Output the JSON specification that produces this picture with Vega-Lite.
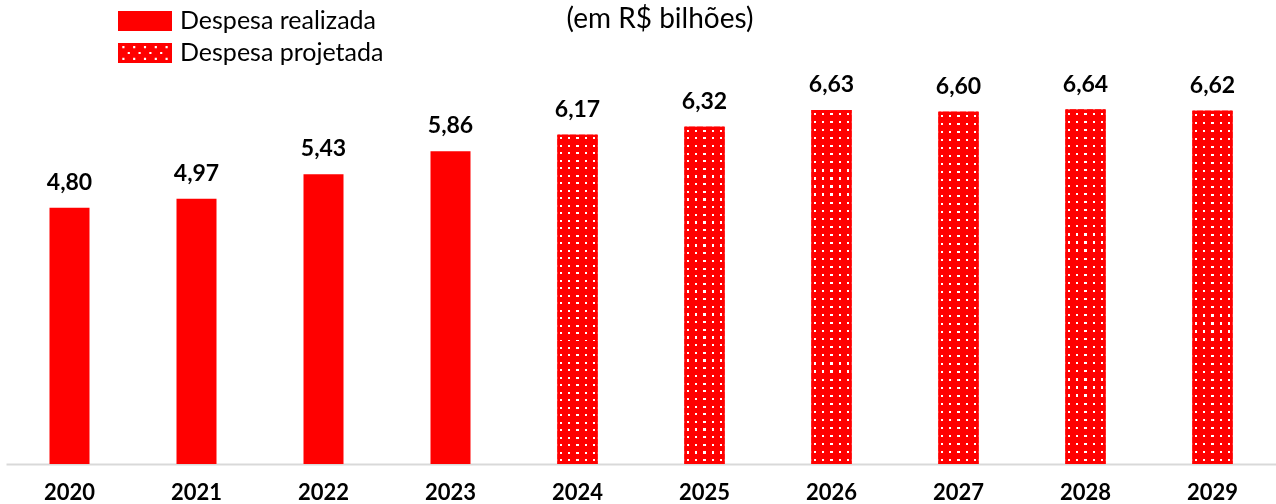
{
  "$schema": "https://vega.github.io/schema/vega-lite/v6.json",
  "width": 1270,
  "height": 427,
  "autosize": {"type": "none"},
  "padding": {"left": 6, "top": 37, "right": 0, "bottom": 40},
  "background": "white",
  "title": {"text": "(em R$ bilhões)", "anchor": "middle", "frame": "group", "font": "Lato", "fontSize": 28, "fontWeight": "normal", "color": "#000", "baseline": "alphabetic", "offset": 0, "dx": 19, "dy": 48},
  "data": {"values": [
    {"ano": "2020", "valor": 4.80, "tipo": "Despesa realizada"},
    {"ano": "2021", "valor": 4.97, "tipo": "Despesa realizada"},
    {"ano": "2022", "valor": 5.43, "tipo": "Despesa realizada"},
    {"ano": "2023", "valor": 5.86, "tipo": "Despesa realizada"},
    {"ano": "2024", "valor": 6.17, "tipo": "Despesa projetada"},
    {"ano": "2025", "valor": 6.32, "tipo": "Despesa projetada"},
    {"ano": "2026", "valor": 6.63, "tipo": "Despesa projetada"},
    {"ano": "2027", "valor": 6.60, "tipo": "Despesa projetada"},
    {"ano": "2028", "valor": 6.64, "tipo": "Despesa projetada"},
    {"ano": "2029", "valor": 6.62, "tipo": "Despesa projetada"}
  ]},
  "encoding": {
    "x": {"field": "ano", "type": "ordinal", "scale": {"paddingInner": 0.685, "paddingOuter": 0.3425},
      "axis": {"title": null, "labelAngle": 0, "ticks": false, "grid": false, "domainColor": "#d9d9d9", "domainWidth": 2, "labelFont": "Lato", "labelFontSize": 22, "labelFontWeight": "bold", "labelColor": "#000", "labelPadding": 18}},
    "y": {"field": "valor", "type": "quantitative", "scale": {"domain": [0, 8]}, "axis": null}
  },
  "layer": [
    {
      "mark": {"type": "point", "filled": true, "opacity": 1, "size": 20},
      "encoding": {
        "y": {"datum": 0.5, "type": "quantitative"},
        "color": {"field": "tipo", "type": "nominal",
          "scale": {"domain": ["Despesa realizada", "Despesa projetada"], "range": ["#ff0000", "#ff0000"]},
          "legend": {"title": null, "orient": "none", "legendX": 112, "legendY": -29, "direction": "vertical", "symbolSize": 2916, "symbolStrokeWidth": 0, "symbolOpacity": 1, "labelFont": "Lato", "labelFontSize": 25, "labelColor": "#000", "labelOffset": 8, "labelLimit": 500, "clipHeight": 26, "rowPadding": 6, "padding": 0}},
        "shape": {"field": "tipo", "type": "nominal",
          "scale": {"domain": ["Despesa realizada", "Despesa projetada"],
            "range": [
              "M-1,-0.37H1V0.37H-1Z",
              "M-1,-0.37H1V0.37H-1Z M-0.84,-0.26V-0.18H-0.76V-0.26Z M-0.44,-0.26V-0.18H-0.36V-0.26Z M-0.04,-0.26V-0.18H0.04V-0.26Z M0.36,-0.26V-0.18H0.44V-0.26Z M0.76,-0.26V-0.18H0.84V-0.26Z M-0.64,-0.04V0.04H-0.56V-0.04Z M-0.24,-0.04V0.04H-0.16V-0.04Z M0.16,-0.04V0.04H0.24V-0.04Z M0.56,-0.04V0.04H0.64V-0.04Z M-0.84,0.18V0.26H-0.76V0.18Z M-0.44,0.18V0.26H-0.36V0.18Z M-0.04,0.18V0.26H0.04V0.18Z M0.36,0.18V0.26H0.44V0.18Z M0.76,0.18V0.26H0.84V0.18Z"
            ]},
          "legend": {"title": null, "orient": "none", "legendX": 112, "legendY": -29, "direction": "vertical", "symbolSize": 2916, "symbolStrokeWidth": 0, "symbolOpacity": 1, "labelFont": "Lato", "labelFontSize": 25, "labelColor": "#000", "labelOffset": 8, "labelLimit": 500, "clipHeight": 26, "rowPadding": 6, "padding": 0}}
      }
    },
    {
      "mark": {"type": "bar", "color": "#ff0000"}
    },
    {
      "transform": [{"filter": "datum.tipo == 'Despesa projetada'"}],
      "mark": {"type": "bar", "fill": {"gradient": "linear", "x1": 0, "y1": 0, "x2": 1, "y2": 0, "stops": [
        {"offset": 0, "color": "red"},
        {"offset": 0.075, "color": "red"}, {"offset": 0.075, "color": "white"}, {"offset": 0.125, "color": "white"}, {"offset": 0.125, "color": "red"},
        {"offset": 0.275, "color": "red"}, {"offset": 0.275, "color": "white"}, {"offset": 0.325, "color": "white"}, {"offset": 0.325, "color": "red"},
        {"offset": 0.475, "color": "red"}, {"offset": 0.475, "color": "white"}, {"offset": 0.525, "color": "white"}, {"offset": 0.525, "color": "red"},
        {"offset": 0.675, "color": "red"}, {"offset": 0.675, "color": "white"}, {"offset": 0.725, "color": "white"}, {"offset": 0.725, "color": "red"},
        {"offset": 0.875, "color": "red"}, {"offset": 0.875, "color": "white"}, {"offset": 0.925, "color": "white"}, {"offset": 0.925, "color": "red"},
        {"offset": 1, "color": "red"}
      ]}}
    },
    {
      "transform": [{"filter": "datum.tipo == 'Despesa projetada'"}],
      "mark": {"type": "bar", "blend": "multiply", "fill": {"gradient": "linear", "x1": 0, "y1": 0, "x2": 0, "y2": 1, "stops": [
        {"offset": 0, "color": "red"},
        {"offset": 0.0084, "color": "red"}, {"offset": 0.0084, "color": "white"}, {"offset": 0.0144, "color": "white"}, {"offset": 0.0144, "color": "red"},
        {"offset": 0.0311, "color": "red"}, {"offset": 0.0311, "color": "white"}, {"offset": 0.0371, "color": "white"}, {"offset": 0.0371, "color": "red"},
        {"offset": 0.0538, "color": "red"}, {"offset": 0.0538, "color": "white"}, {"offset": 0.0598, "color": "white"}, {"offset": 0.0598, "color": "red"},
        {"offset": 0.0766, "color": "red"}, {"offset": 0.0766, "color": "white"}, {"offset": 0.0826, "color": "white"}, {"offset": 0.0826, "color": "red"},
        {"offset": 0.0993, "color": "red"}, {"offset": 0.0993, "color": "white"}, {"offset": 0.1053, "color": "white"}, {"offset": 0.1053, "color": "red"},
        {"offset": 0.1220, "color": "red"}, {"offset": 0.1220, "color": "white"}, {"offset": 0.1280, "color": "white"}, {"offset": 0.1280, "color": "red"},
        {"offset": 0.1447, "color": "red"}, {"offset": 0.1447, "color": "white"}, {"offset": 0.1507, "color": "white"}, {"offset": 0.1507, "color": "red"},
        {"offset": 0.1675, "color": "red"}, {"offset": 0.1675, "color": "white"}, {"offset": 0.1735, "color": "white"}, {"offset": 0.1735, "color": "red"},
        {"offset": 0.1902, "color": "red"}, {"offset": 0.1902, "color": "white"}, {"offset": 0.1962, "color": "white"}, {"offset": 0.1962, "color": "red"},
        {"offset": 0.2129, "color": "red"}, {"offset": 0.2129, "color": "white"}, {"offset": 0.2189, "color": "white"}, {"offset": 0.2189, "color": "red"},
        {"offset": 0.2356, "color": "red"}, {"offset": 0.2356, "color": "white"}, {"offset": 0.2416, "color": "white"}, {"offset": 0.2416, "color": "red"},
        {"offset": 0.2584, "color": "red"}, {"offset": 0.2584, "color": "white"}, {"offset": 0.2644, "color": "white"}, {"offset": 0.2644, "color": "red"},
        {"offset": 0.2811, "color": "red"}, {"offset": 0.2811, "color": "white"}, {"offset": 0.2871, "color": "white"}, {"offset": 0.2871, "color": "red"},
        {"offset": 0.3038, "color": "red"}, {"offset": 0.3038, "color": "white"}, {"offset": 0.3098, "color": "white"}, {"offset": 0.3098, "color": "red"},
        {"offset": 0.3266, "color": "red"}, {"offset": 0.3266, "color": "white"}, {"offset": 0.3326, "color": "white"}, {"offset": 0.3326, "color": "red"},
        {"offset": 0.3493, "color": "red"}, {"offset": 0.3493, "color": "white"}, {"offset": 0.3553, "color": "white"}, {"offset": 0.3553, "color": "red"},
        {"offset": 0.3720, "color": "red"}, {"offset": 0.3720, "color": "white"}, {"offset": 0.3780, "color": "white"}, {"offset": 0.3780, "color": "red"},
        {"offset": 0.3947, "color": "red"}, {"offset": 0.3947, "color": "white"}, {"offset": 0.4007, "color": "white"}, {"offset": 0.4007, "color": "red"},
        {"offset": 0.4175, "color": "red"}, {"offset": 0.4175, "color": "white"}, {"offset": 0.4235, "color": "white"}, {"offset": 0.4235, "color": "red"},
        {"offset": 0.4402, "color": "red"}, {"offset": 0.4402, "color": "white"}, {"offset": 0.4462, "color": "white"}, {"offset": 0.4462, "color": "red"},
        {"offset": 0.4629, "color": "red"}, {"offset": 0.4629, "color": "white"}, {"offset": 0.4689, "color": "white"}, {"offset": 0.4689, "color": "red"},
        {"offset": 0.4856, "color": "red"}, {"offset": 0.4856, "color": "white"}, {"offset": 0.4916, "color": "white"}, {"offset": 0.4916, "color": "red"},
        {"offset": 0.5084, "color": "red"}, {"offset": 0.5084, "color": "white"}, {"offset": 0.5144, "color": "white"}, {"offset": 0.5144, "color": "red"},
        {"offset": 0.5311, "color": "red"}, {"offset": 0.5311, "color": "white"}, {"offset": 0.5371, "color": "white"}, {"offset": 0.5371, "color": "red"},
        {"offset": 0.5538, "color": "red"}, {"offset": 0.5538, "color": "white"}, {"offset": 0.5598, "color": "white"}, {"offset": 0.5598, "color": "red"},
        {"offset": 0.5766, "color": "red"}, {"offset": 0.5766, "color": "white"}, {"offset": 0.5826, "color": "white"}, {"offset": 0.5826, "color": "red"},
        {"offset": 0.5993, "color": "red"}, {"offset": 0.5993, "color": "white"}, {"offset": 0.6053, "color": "white"}, {"offset": 0.6053, "color": "red"},
        {"offset": 0.6220, "color": "red"}, {"offset": 0.6220, "color": "white"}, {"offset": 0.6280, "color": "white"}, {"offset": 0.6280, "color": "red"},
        {"offset": 0.6447, "color": "red"}, {"offset": 0.6447, "color": "white"}, {"offset": 0.6507, "color": "white"}, {"offset": 0.6507, "color": "red"},
        {"offset": 0.6675, "color": "red"}, {"offset": 0.6675, "color": "white"}, {"offset": 0.6735, "color": "white"}, {"offset": 0.6735, "color": "red"},
        {"offset": 0.6902, "color": "red"}, {"offset": 0.6902, "color": "white"}, {"offset": 0.6962, "color": "white"}, {"offset": 0.6962, "color": "red"},
        {"offset": 0.7129, "color": "red"}, {"offset": 0.7129, "color": "white"}, {"offset": 0.7189, "color": "white"}, {"offset": 0.7189, "color": "red"},
        {"offset": 0.7356, "color": "red"}, {"offset": 0.7356, "color": "white"}, {"offset": 0.7416, "color": "white"}, {"offset": 0.7416, "color": "red"},
        {"offset": 0.7584, "color": "red"}, {"offset": 0.7584, "color": "white"}, {"offset": 0.7644, "color": "white"}, {"offset": 0.7644, "color": "red"},
        {"offset": 0.7811, "color": "red"}, {"offset": 0.7811, "color": "white"}, {"offset": 0.7871, "color": "white"}, {"offset": 0.7871, "color": "red"},
        {"offset": 0.8038, "color": "red"}, {"offset": 0.8038, "color": "white"}, {"offset": 0.8098, "color": "white"}, {"offset": 0.8098, "color": "red"},
        {"offset": 0.8266, "color": "red"}, {"offset": 0.8266, "color": "white"}, {"offset": 0.8326, "color": "white"}, {"offset": 0.8326, "color": "red"},
        {"offset": 0.8493, "color": "red"}, {"offset": 0.8493, "color": "white"}, {"offset": 0.8553, "color": "white"}, {"offset": 0.8553, "color": "red"},
        {"offset": 0.8720, "color": "red"}, {"offset": 0.8720, "color": "white"}, {"offset": 0.8780, "color": "white"}, {"offset": 0.8780, "color": "red"},
        {"offset": 0.8947, "color": "red"}, {"offset": 0.8947, "color": "white"}, {"offset": 0.9007, "color": "white"}, {"offset": 0.9007, "color": "red"},
        {"offset": 0.9175, "color": "red"}, {"offset": 0.9175, "color": "white"}, {"offset": 0.9235, "color": "white"}, {"offset": 0.9235, "color": "red"},
        {"offset": 0.9402, "color": "red"}, {"offset": 0.9402, "color": "white"}, {"offset": 0.9462, "color": "white"}, {"offset": 0.9462, "color": "red"},
        {"offset": 0.9629, "color": "red"}, {"offset": 0.9629, "color": "white"}, {"offset": 0.9689, "color": "white"}, {"offset": 0.9689, "color": "red"},
        {"offset": 0.9856, "color": "red"}, {"offset": 0.9856, "color": "white"}, {"offset": 0.9916, "color": "white"}, {"offset": 0.9916, "color": "red"},
        {"offset": 1, "color": "red"}
      ]}}
    },
    {
      "mark": {"type": "text", "dy": -18, "baseline": "alphabetic", "font": "Lato", "fontSize": 23, "fontWeight": "bold", "color": "#000"},
      "encoding": {"text": {"field": "valor", "type": "quantitative", "format": ".2f"}}
    }
  ],
  "config": {
    "view": {"stroke": null},
    "legend": {"labelFont": "Lato", "labelFontSize": 25, "labelColor": "#000", "labelLimit": 500},
    "locale": {"number": {"decimal": ",", "thousands": ".", "grouping": [3], "currency": ["R$ ", ""]}}
  }
}
